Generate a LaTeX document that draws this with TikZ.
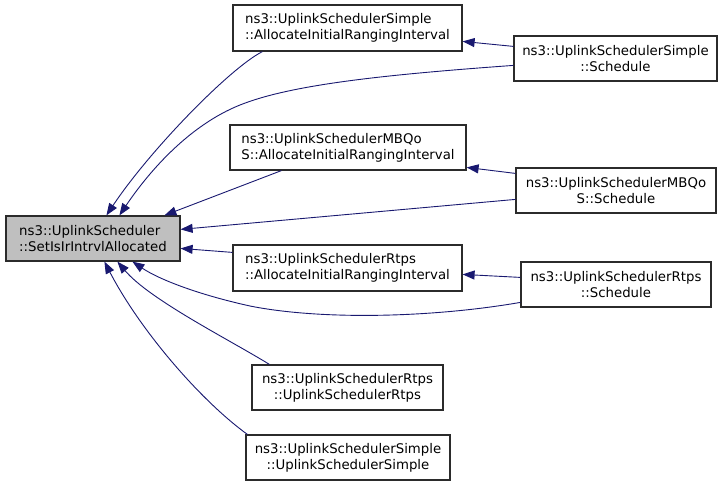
\documentclass[tikz,border=0pt]{standalone}
\usepackage{fontspec}
\setmainfont{DejaVu Sans}
\usetikzlibrary{arrows.meta,calc}
\definecolor{edgeblue}{HTML}{191970}
\definecolor{boxgray}{HTML}{BFBFBF}
\definecolor{boxline}{HTML}{2B2B2B}
\begin{document}
\begin{tikzpicture}[x=1pt,y=-1pt,
  box/.style={draw=boxline,line width=1.2pt,fill=white,inner sep=0pt,
    font=\fontsize{13.3}{16}\selectfont},
  edge/.style={draw=edgeblue,line width=0.9pt,
    -{Triangle[length=12pt,width=9pt]},color=edgeblue}]
\useasboundingbox (0,0) rectangle (723,485);
\node[box,fill=boxgray,minimum width=174pt,minimum height=45pt,align=left] (main) at (93,238.5)
  {ns3::UplinkScheduler\\::SetIsIrIntrvlAllocated};
\node[box,minimum width=229pt,minimum height=46pt,align=left] (sa) at (347.5,28)
  {ns3::UplinkSchedulerSimple\\::AllocateInitialRangingInterval};
\node[box,minimum width=203pt,minimum height=45pt,align=center] (ss) at (615.5,58.5)
  {ns3::UplinkSchedulerSimple\\::Schedule};
\node[box,minimum width=236pt,minimum height=45pt,align=left] (ma) at (348,147.5)
  {ns3::UplinkSchedulerMBQo\\S::AllocateInitialRangingInterval};
\node[box,minimum width=200pt,minimum height=45pt,align=center] (ms) at (616,190.5)
  {ns3::UplinkSchedulerMBQo\\S::Schedule};
\node[box,minimum width=229pt,minimum height=46pt,align=left] (ra) at (347.5,268)
  {ns3::UplinkSchedulerRtps\\::AllocateInitialRangingInterval};
\node[box,minimum width=190pt,minimum height=45pt,align=center] (rs) at (616,284.5)
  {ns3::UplinkSchedulerRtps\\::Schedule};
\node[box,minimum width=191pt,minimum height=45pt,align=center] (rc) at (347.5,387.5)
  {ns3::UplinkSchedulerRtps\\::UplinkSchedulerRtps};
\node[box,minimum width=204pt,minimum height=45pt,align=center] (sc) at (348,457.5)
  {ns3::UplinkSchedulerSimple\\::UplinkSchedulerSimple};
% edges into main
\draw[edge] ($(sa.south west)+(30,0)$) .. controls (230,68) and (150,150) .. ($(main.north west)+(101,0)$);
\draw[edge] ($(ss.north west)+(0,30)$) .. controls (380,75) and (290,85) .. (240,105)
  .. controls (190,125) and (150,170) .. ($(main.north west)+(114,0)$);
\draw[edge] ($(ma.south west)+(52,0)$) -- ($(main.north west)+(159,0)$);
\draw[edge] ($(ms.north west)+(0,32)$) -- ($(main.north east)+(0,14)$);
\draw[edge] ($(ra.north west)+(0,8)$) -- ($(main.north east)+(0,33)$);
\draw[edge] ($(rs.north west)+(0,41)$) .. controls (430,318) and (320,320) .. (250,306)
  .. controls (200,295) and (160,280) .. ($(main.south west)+(127,0)$);
\draw[edge] ($(rc.north west)+(18,0)$) .. controls (230,340) and (150,300) .. ($(main.south west)+(112,0)$);
\draw[edge] ($(sc.north west)+(2,0)$) .. controls (200,400) and (140,330) .. ($(main.south west)+(99,0)$);
% edges between right columns
\draw[edge] ($(ss.north west)+(0,11)$) -- ($(sa.north east)+(0,37)$);
\draw[edge] ($(ms.north west)+(0,6)$) -- ($(ma.north east)+(0,43)$);
\draw[edge] ($(rs.north west)+(0,16)$) -- ($(ra.north east)+(0,30)$);
\end{tikzpicture}
\end{document}
